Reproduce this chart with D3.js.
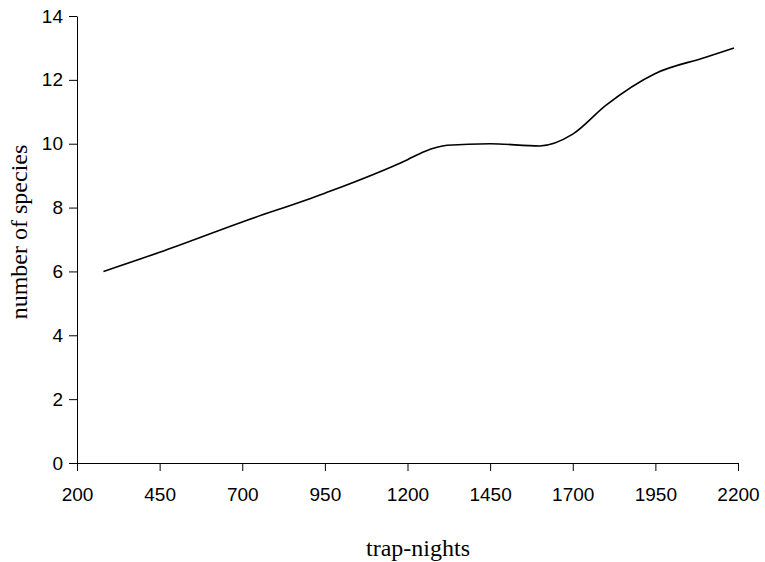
<!DOCTYPE html>
<html>
<head>
<meta charset="utf-8">
<script src="https://cdn.jsdelivr.net/npm/d3@7"></script>
<style>
  body { margin: 0; background: #fff; }
  .tick text { font-family: "Liberation Sans", Arial, sans-serif; font-size: 19px; fill: #000; }
  .title { font-family: "Liberation Serif", "Times New Roman", serif; font-size: 24px; fill: #000; }
</style>
</head>
<body>
<div class="chart"></div>
<script>
const w = 765;
const h = 562;
const margin = { top: 16, right: 27, bottom: 99, left: 77 };

// trap-nights vs. number of species
const trapNights = [280, 450, 700, 950, 1200, 1250, 1320, 1450, 1600, 1700, 1800, 1950, 2100, 2188];
const species = [6.0, 6.6, 7.55, 8.45, 9.5, 9.75, 9.95, 10.0, 9.93, 10.3, 11.2, 12.2, 12.7, 13.0];
const xTicks = [200, 450, 700, 950, 1200, 1450, 1700, 1950, 2200];
const yTicks = [0, 2, 4, 6, 8, 10, 12, 14];

const svg = d3.select(".chart")
    .append("svg")
    .attr("width", w)
    .attr("height", h)

const x = d3.scaleLinear()
    .domain([200, 2200])
    .range([margin.left, w - margin.right])

const y = d3.scaleLinear()
    .domain([0, 14])
    .range([h - margin.bottom, margin.top])

svg.append("g")
    .attr("transform", `translate(0, ${h - margin.bottom})`)
    .call(d3.axisBottom(x).tickValues(xTicks).tickFormat(d3.format("d"))
        .tickSize(8).tickPadding(17).tickSizeOuter(0))
    .call(g => g.select(".domain").attr("stroke", "#000"))
    .call(g => g.selectAll(".tick line").attr("stroke", "#000"))

svg.append("g")
    .attr("transform", `translate(${margin.left}, 0)`)
    .call(d3.axisLeft(y).tickValues(yTicks).tickSize(8).tickPadding(6).tickSizeOuter(0))
    .call(g => g.select(".domain").attr("stroke", "#000"))
    .call(g => g.selectAll(".tick line").attr("stroke", "#000"))

const line = d3.line()
    .x(d => x(d[0]))
    .y(d => y(d[1]))
    .curve(d3.curveMonotoneX)

svg.append("path")
    .datum(d3.zip(trapNights, species))
    .attr("fill", "none")
    .attr("stroke", "#000")
    .attr("stroke-width", 1.6)
    .attr("d", line)

svg.append("text")
    .attr("class", "title")
    .attr("x", 418)
    .attr("y", 556)
    .attr("text-anchor", "middle")
    .text("trap-nights")

svg.append("text")
    .attr("class", "title")
    .attr("transform", `translate(27, 232) rotate(-90)`)
    .attr("text-anchor", "middle")
    .text("number of species")
</script>
</body>
</html>
